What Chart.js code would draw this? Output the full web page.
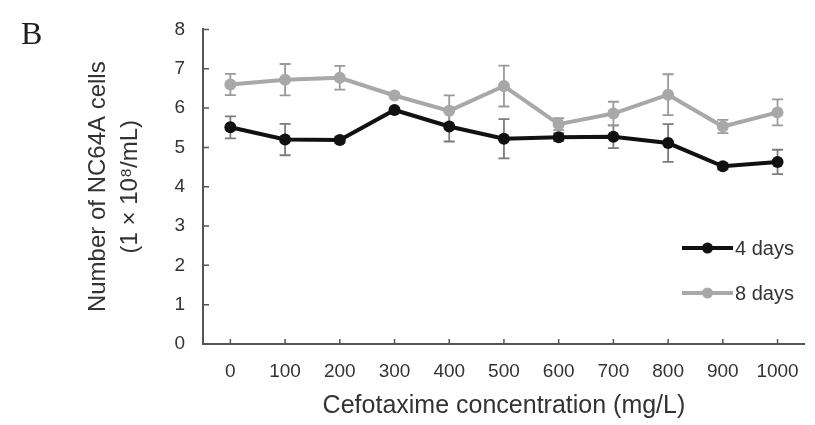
<!DOCTYPE html>
<html>
<head>
<meta charset="utf-8">
<script src="https://cdn.jsdelivr.net/npm/chart.js@4.4.1/dist/chart.umd.min.js"></script>
<style>
  html, body { margin: 0; padding: 0; background: #fff; }
  #wrap { position: relative; width: 815px; height: 425px; }
  #panel { position: absolute; left: 21px; top: 17px; font: 32px/32px 'Liberation Serif', 'Times New Roman', serif; color: #1e1e1e; }
</style>
</head>
<body>
<div id="wrap">
  <canvas id="chart" width="815" height="425"></canvas>
  <div id="panel">B</div>
</div>
<script>
const concentrations = ['0', '100', '200', '300', '400', '500', '600', '700', '800', '900', '1000'];
const days4 = [5.51, 5.20, 5.19, 5.95, 5.53, 5.22, 5.26, 5.27, 5.11, 4.52, 4.63];
const days4Err = [0.28, 0.40, 0.08, 0.05, 0.38, 0.50, 0.10, 0.29, 0.48, 0.08, 0.31];
const days8 = [6.60, 6.72, 6.77, 6.32, 5.93, 6.56, 5.59, 5.86, 6.34, 5.53, 5.89];
const days8Err = [0.27, 0.40, 0.30, 0.05, 0.39, 0.52, 0.15, 0.30, 0.52, 0.17, 0.33];
const seriesLabels = ['4 days', '8 days'];

const axisColor = '#555555';
const textColor = '#333333';

Chart.defaults.font.family = "'Liberation Sans', Arial, sans-serif";
Chart.defaults.color = textColor;

// error bars are drawn under the lines
const errorBars = {
  id: 'errorBars',
  beforeDatasetsDraw(chart) {
    const { ctx, scales: { x, y } } = chart;
    chart.data.datasets.forEach((ds) => {
      ctx.save();
      ctx.strokeStyle = ds.errorColor;
      ctx.lineWidth = 1.8;
      ds.errors.forEach((err, j) => {
        const px = x.getPixelForValue(j);
        const top = y.getPixelForValue(ds.data[j] + err);
        const bottom = y.getPixelForValue(ds.data[j] - err);
        ctx.beginPath();
        ctx.moveTo(px, top);
        ctx.lineTo(px, bottom);
        ctx.moveTo(px - 5.5, top);
        ctx.lineTo(px + 5.5, top);
        ctx.moveTo(px - 5.5, bottom);
        ctx.lineTo(px + 5.5, bottom);
        ctx.stroke();
      });
      ctx.restore();
    });
  },
};

// small tick marks pointing into the plot
const innerTicks = {
  id: 'innerTicks',
  afterDraw(chart) {
    const { ctx, scales: { x, y } } = chart;
    ctx.save();
    ctx.strokeStyle = axisColor;
    ctx.lineWidth = 1.5;
    ctx.beginPath();
    x.ticks.forEach((_, i) => {
      const px = x.getPixelForTick(i);
      ctx.moveTo(px, y.bottom);
      ctx.lineTo(px, y.bottom - 5);
    });
    y.ticks.forEach((_, i) => {
      const py = y.getPixelForTick(i);
      ctx.moveTo(x.left, py);
      ctx.lineTo(x.left + 6, py);
    });
    ctx.stroke();
    ctx.restore();
  },
};

// legend inside the plot, line + marker + label
const insideLegend = {
  id: 'insideLegend',
  afterDraw(chart, args, opts) {
    const { ctx } = chart;
    ctx.save();
    chart.data.datasets.forEach((ds, i) => {
      const ly = opts.top + i * opts.rowGap;
      ctx.strokeStyle = ds.borderColor;
      ctx.lineWidth = 4;
      ctx.beginPath();
      ctx.moveTo(opts.left, ly);
      ctx.lineTo(opts.left + opts.lineLength, ly);
      ctx.stroke();
      ctx.fillStyle = ds.borderColor;
      ctx.beginPath();
      ctx.arc(opts.left + opts.lineLength / 2, ly, 5.5, 0, Math.PI * 2);
      ctx.fill();
      ctx.fillStyle = textColor;
      ctx.font = "20px 'Liberation Sans', Arial, sans-serif";
      ctx.textBaseline = 'middle';
      ctx.textAlign = 'left';
      ctx.fillText(ds.label, opts.left + opts.lineLength + 2, ly + 1);
    });
    ctx.restore();
  },
};

new Chart(document.getElementById('chart'), {
  type: 'line',
  data: {
    labels: concentrations,
    datasets: [
      {
        label: seriesLabels[0],
        data: days4,
        errors: days4Err,
        errorColor: '#7c7c7c',
        borderColor: '#111111',
        backgroundColor: '#111111',
        borderWidth: 4,
        pointRadius: 6,
        pointBorderWidth: 0,
        tension: 0,
      },
      {
        label: seriesLabels[1],
        data: days8,
        errors: days8Err,
        errorColor: '#9a9a9a',
        borderColor: '#a8a8a8',
        backgroundColor: '#a8a8a8',
        borderWidth: 4,
        pointRadius: 6,
        pointBorderWidth: 0,
        tension: 0,
      },
    ],
  },
  options: {
    responsive: false,
    animation: false,
    layout: {
      padding: { top: 26, right: 7, bottom: 0, left: 0 },
    },
    plugins: {
      legend: { display: false },
      tooltip: { enabled: false },
      insideLegend: { left: 682, top: 248, rowGap: 45, lineLength: 51 },
    },
    scales: {
      x: {
        type: 'category',
        offset: true,
        afterFit(scale) {
          scale.height = 81;
        },
        grid: { display: false, drawTicks: false },
        border: { display: true, color: axisColor, width: 2 },
        ticks: {
          color: textColor,
          padding: 16,
          maxRotation: 0,
          autoSkip: false,
          font: { size: 19 },
        },
        title: {
          display: true,
          text: 'Cefotaxime concentration (mg/L)',
          color: textColor,
          font: { size: 25 },
          padding: { top: 0, bottom: 4 },
        },
      },
      y: {
        min: 0,
        max: 8,
        afterFit(scale) {
          scale.width = 203;
        },
        grid: { display: false, drawTicks: false },
        border: { display: true, color: axisColor, width: 2 },
        ticks: {
          stepSize: 1,
          color: textColor,
          padding: 18,
          font: { size: 19 },
        },
        title: {
          display: true,
          text: ['Number of NC64A cells', '(1 \u00d7 10\u2078/mL)'],
          color: textColor,
          font: { size: 24, lineHeight: 1.35 },
          padding: { top: 82, bottom: 0 },
        },
      },
    },
  },
  plugins: [errorBars, innerTicks, insideLegend],
});
</script>
</body>
</html>
